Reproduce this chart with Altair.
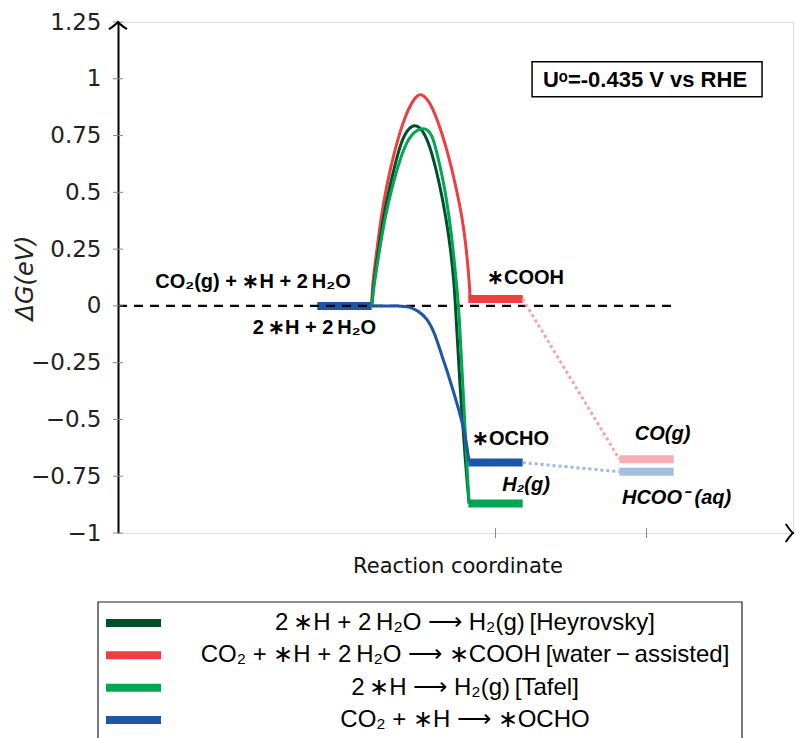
import altair as alt
import pandas as pd

# Free-energy diagram for CO2 reduction / H2 evolution at U = -0.435 V vs RHE.
# Reaction coordinate: initial state around 1.5, intermediates around 2.5,
# final products around 3.5.
X_MAX = 4.47
Y_MIN, Y_MAX = -1.0, 1.25

reactions = [
    "2\u2009∗H + 2\u2009H₂O ⟶ H₂(g)\u2009[Heyrovsky]",
    "CO₂ + ∗H + 2\u2009H₂O ⟶ ∗COOH\u2009[water\u2009−\u2009assisted]",
    "2\u2009∗H ⟶ H₂(g)\u2009[Tafel]",
    "CO₂ + ∗H ⟶ ∗OCHO",
]
colors = ["#004f2a", "#ef3e42", "#00a651", "#1d56a6"]

# Barrier profiles (reaction coordinate, ΔG in eV)
heyrovsky_x = [1.68, 1.691, 1.724, 1.757, 1.801, 1.856, 1.896, 1.967, 2.033, 2.077,
               2.132, 2.172, 2.205, 2.227, 2.238, 2.262, 2.303, 2.325]
heyrovsky_y = [0.0, 0.09, 0.24, 0.39, 0.53, 0.68, 0.76, 0.81, 0.76, 0.68,
               0.53, 0.39, 0.24, 0.09, -0.04, -0.33, -0.71, -0.87]

cooh_x = [1.68, 1.684, 1.713, 1.742, 1.779, 1.830, 1.896, 1.956, 2.000, 2.055,
          2.111, 2.183, 2.236, 2.280, 2.309, 2.328, 2.332]
cooh_y = [0.0, 0.09, 0.24, 0.39, 0.53, 0.68, 0.83, 0.91, 0.94, 0.91,
          0.83, 0.68, 0.53, 0.39, 0.24, 0.09, 0.03]

tafel_x = [1.68, 1.695, 1.730, 1.768, 1.817, 1.883, 1.940, 2.028, 2.077, 2.111,
           2.161, 2.194, 2.221, 2.243, 2.260, 2.282, 2.311, 2.325]
tafel_y = [0.0, 0.09, 0.24, 0.39, 0.53, 0.68, 0.76, 0.79, 0.76, 0.68,
           0.53, 0.39, 0.24, 0.09, -0.04, -0.33, -0.71, -0.87]

ocho_x = [1.68, 1.868, 1.934, 1.987, 2.046, 2.099, 2.132, 2.199, 2.252, 2.298, 2.325]
ocho_y = [0.0, 0.0, -0.004, -0.022, -0.053, -0.123, -0.194, -0.326, -0.445, -0.559, -0.687]

# Energy levels (thick horizontal bars)
level_x = [1.32, 2.32, 2.32, 2.32, 3.32, 3.32]
level_x2 = [1.68, 2.68, 2.68, 2.68, 3.68, 3.68]
level_y = [0.0, 0.03, -0.69, -0.87, -0.675, -0.73]
level_color = ["#1d56a6", "#ef3e42", "#1d56a6", "#00a651", "#f6aeb3", "#a5bde0"]

# Dotted desorption links
link_x = [2.68, 2.68]
link_x2 = [3.32, 3.32]
link_y = [0.03, -0.69]
link_y2 = [-0.675, -0.73]
link_color = ["#f4a3a8", "#9fb7de"]

# State labels
label_text = ["CO₂(g) + ∗H + 2\u2009H₂O", "2\u2009∗H + 2\u2009H₂O", "∗COOH", "∗OCHO"]
label_x = [0.894, 1.301, 2.699, 2.599]
label_y = [0.106, -0.097, 0.123, -0.586]

product_text = ["H₂(g)", "CO(g)", "HCOO⁻ (aq)"]
product_x = [2.702, 3.606, 3.699]
product_y = [-0.789, -0.564, -0.846]

y_ticks = [-1, -0.75, -0.5, -0.25, 0, 0.25, 0.5, 0.75, 1, 1.25]
x_ticks = [2.5, 3.5]

# ---------------------------------------------------------------------------
xs = alt.Scale(domain=[0, X_MAX], nice=False, zero=False)
ys = alt.Scale(domain=[Y_MIN, Y_MAX], nice=False, zero=False)

rows = []
for name, xv, yv in zip(reactions[1:2] + reactions[0:1] + reactions[2:],
                        [cooh_x, heyrovsky_x, tafel_x, ocho_x],
                        [cooh_y, heyrovsky_y, tafel_y, ocho_y]):
    for i, (a, b) in enumerate(zip(xv, yv)):
        rows.append({"reaction": name, "x": a, "y": b, "i": i})
curves_df = pd.DataFrame(rows)

curves = alt.Chart(curves_df).mark_line(strokeWidth=3, interpolate="basis").encode(
    x=alt.X("x:Q", scale=xs, title=None, axis=alt.Axis(
        labels=False, ticks=False, grid=False, domainColor="black", domainWidth=2)),
    y=alt.Y("y:Q", scale=ys, title="ΔG(eV)", axis=alt.Axis(
        values=y_ticks, format=".2~f", ticks=False, grid=False, domainColor="black",
        domainWidth=2, labelFont="DejaVu Sans", labelFontSize=23, labelColor="#222",
        labelPadding=17, titleFont="DejaVu Sans", titleFontSize=24,
        titleFontWeight="normal", titleFontStyle="italic", titleColor="#222",
        titleX=-93, titleY=255.5, titleAngle=270, titleAlign="center",
        titleBaseline="middle")),
    color=alt.Color("reaction:N", scale=alt.Scale(domain=reactions, range=colors), legend=None),
    detail="reaction:N",
    order=alt.Order("i:Q"),
)

# x-axis caption, centred under the axis
xtitle_df = pd.DataFrame({"t": ["Reaction coordinate"]})
x_title = alt.Chart(xtitle_df).mark_text(
    font="DejaVu Sans", fontSize=21, color="#111", align="center", baseline="middle").encode(
    x=alt.value(340), y=alt.value(545), text="t:N")

levels_df = pd.DataFrame({"x": level_x, "x2": level_x2, "y": level_y, "c": level_color})
levels = alt.Chart(levels_df).mark_rule(strokeWidth=8, strokeCap="butt").encode(
    x=alt.X("x:Q", scale=xs, axis=None), x2="x2:Q",
    y=alt.Y("y:Q", scale=ys, axis=None),
    color=alt.Color("c:N", scale=None),
)

links_df = pd.DataFrame({"x": link_x, "x2": link_x2, "y": link_y, "y2": link_y2, "c": link_color})
links = alt.Chart(links_df).mark_rule(strokeWidth=3, strokeDash=[3, 3]).encode(
    x=alt.X("x:Q", scale=xs, axis=None), x2="x2:Q",
    y=alt.Y("y:Q", scale=ys, axis=None), y2="y2:Q",
    color=alt.Color("c:N", scale=None),
)

zero_df = pd.DataFrame({"x": [0.0], "x2": [3.70], "y": [0.0]})
zero_line = alt.Chart(zero_df).mark_rule(strokeWidth=2.2, strokeDash=[9, 7], color="black").encode(
    x=alt.X("x:Q", scale=xs, axis=None), x2="x2:Q",
    y=alt.Y("y:Q", scale=ys, axis=None),
)

labels_df = pd.DataFrame({"t": label_text, "x": label_x, "y": label_y})
labels = alt.Chart(labels_df).mark_text(
    font="Liberation Sans", fontSize=20, fontWeight="bold", color="black",
    align="center", baseline="middle").encode(
    x=alt.X("x:Q", scale=xs, axis=None), y=alt.Y("y:Q", scale=ys, axis=None), text="t:N")

products_df = pd.DataFrame({"t": product_text, "x": product_x, "y": product_y})
products = alt.Chart(products_df).mark_text(
    font="Liberation Sans", fontSize=20, fontWeight="bold", fontStyle="italic",
    color="black", align="center", baseline="middle").encode(
    x=alt.X("x:Q", scale=xs, axis=None), y=alt.Y("y:Q", scale=ys, axis=None), text="t:N")

# Potential annotation box
box_df = pd.DataFrame({"x": [2.742], "x2": [4.265], "y": [0.921], "y2": [1.075],
                       "xc": [3.49], "yc": [0.996], "t": ["Uᵒ=-0.435 V vs RHE"]})
box = alt.Chart(box_df).mark_rect(fill="white", stroke="black", strokeWidth=1.5).encode(
    x=alt.X("x:Q", scale=xs, axis=None), x2="x2:Q",
    y=alt.Y("y:Q", scale=ys, axis=None), y2="y2:Q")
box_text = alt.Chart(box_df).mark_text(
    font="Liberation Sans", fontSize=22, fontWeight="bold", color="black",
    align="center", baseline="middle").encode(
    x=alt.X("xc:Q", scale=xs, axis=None), y=alt.Y("yc:Q", scale=ys, axis=None), text="t:N")

# Axis tick marks crossing the axis lines
yt_df = pd.DataFrame({"y": y_ticks})
y_tick_marks = alt.Chart(yt_df).mark_rule(color="#888", strokeWidth=1).encode(
    x=alt.value(-5), x2=alt.value(5), y=alt.Y("y:Q", scale=ys, axis=None))
xt_df = pd.DataFrame({"x": x_ticks})
x_tick_marks = alt.Chart(xt_df).mark_rule(color="#888", strokeWidth=1).encode(
    x=alt.X("x:Q", scale=xs, axis=None), y=alt.value(506), y2=alt.value(516))

# Arrow heads at the axis ends
arrow_df = pd.DataFrame({"x": [0.0, X_MAX], "y": [Y_MAX, Y_MIN], "a": [0, 90]})
arrows = alt.Chart(arrow_df).mark_point(
    shape="M-1,0.8 Q-0.25,0.3 0,0 Q0.25,0.3 1,0.8", filled=False,
    stroke="black", strokeWidth=2, size=324, opacity=1).encode(
    x=alt.X("x:Q", scale=xs, axis=None), y=alt.Y("y:Q", scale=ys, axis=None),
    angle=alt.Angle("a:Q", scale=None))

# Legend below the plot
legend_df = pd.DataFrame({"reaction": reactions, "c": colors, "row": list(range(len(reactions)))})
frame_df = pd.DataFrame({"k": [0]})
legend_frame = alt.Chart(frame_df).mark_rect(fill="white", stroke="#222", strokeWidth=1.2).encode(
    x=alt.value(-20), x2=alt.value(624), y=alt.value(580), y2=alt.value(760))
row_scale = alt.Scale(domain=[0, 3], range=[601, 698])
legend_swatches = alt.Chart(legend_df).mark_rule(strokeWidth=8, strokeCap="butt").encode(
    x=alt.value(-12), x2=alt.value(43),
    y=alt.Y("row:Q", scale=row_scale, axis=None),
    color=alt.Color("c:N", scale=None))
legend_labels = alt.Chart(legend_df).mark_text(
    font="Liberation Sans", fontSize=24, color="black", align="center", baseline="middle").encode(
    x=alt.value(347), y=alt.Y("row:Q", scale=row_scale, axis=None), text="reaction:N")

chart = alt.layer(
    box, box_text, levels, zero_line, links, curves, labels, products,
    y_tick_marks, x_tick_marks, arrows, x_title,
    legend_frame, legend_swatches, legend_labels,
).resolve_scale(y="independent").properties(
    width=675, height=511,
    autosize=alt.AutoSizeParams(type="none"),
    padding={"left": 118, "top": 22, "right": 3, "bottom": 205},
).configure_view(stroke=None).configure(background="white")

chart.save("out.html", embed_options={"renderer": "svg", "actions": False})
